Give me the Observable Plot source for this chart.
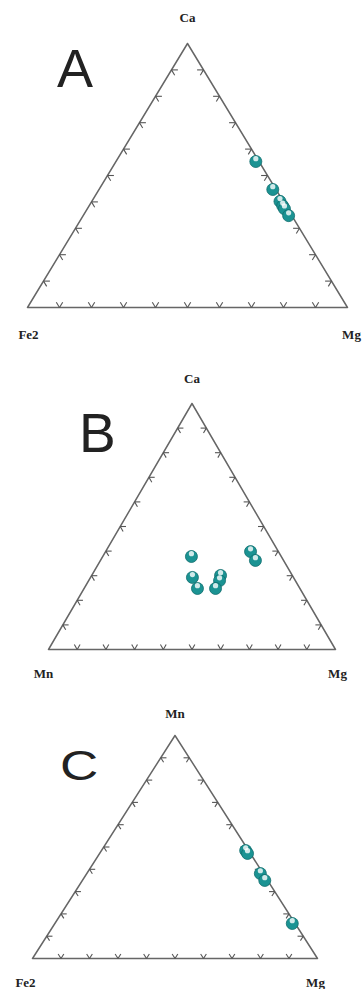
<!DOCTYPE html>
<html>
<head>
<meta charset="utf-8">
<script src="https://cdn.jsdelivr.net/npm/d3@7"></script>
<script src="https://cdn.jsdelivr.net/npm/@observablehq/plot@0.6"></script>
<style>
  html, body { margin: 0; padding: 0; background: #fff; }
  #wrap { position: relative; width: 364px; height: 989px; overflow: hidden; }
  .panel { position: absolute; left: 0; width: 364px; }
  .letter { position: absolute; font-family: "Liberation Sans", Arial, sans-serif; color: #222; line-height: 1; white-space: nowrap; }
</style>
</head>
<body>
<div id="wrap">
  <div class="panel" id="pA" style="top:0px;height:345px"></div>
  <div class="panel" id="pB" style="top:345px;height:345px"></div>
  <div class="panel" id="pC" style="top:690px;height:299px"></div>
  <span class="letter" style="left:57px;top:41px;font-size:54px">A</span>
  <span class="letter" style="left:79px;top:406px;font-size:55px">B</span>
  <span class="letter" style="left:60px;top:739px;font-size:53px;transform:scaleY(0.8);transform-origin:50% 50%">C</span>
</div>
<script>
// ---- Data (mole fractions) ----
// Panel A: Ca (top) – Fe2 (left) – Mg (right)
const aCa  = [0.553, 0.447, 0.402, 0.385, 0.374, 0.348];
const aFe2 = [0.010, 0.010, 0.010, 0.010, 0.010, 0.010];
const aMg  = [0.437, 0.543, 0.588, 0.605, 0.616, 0.642];

// Panel B: Ca (top) – Mn (left) – Mg (right)
const bCa = [0.378, 0.293, 0.248, 0.301, 0.280, 0.248, 0.398, 0.362];
const bMn = [0.313, 0.352, 0.357, 0.250, 0.264, 0.294, 0.097, 0.098];
const bMg = [0.309, 0.355, 0.395, 0.449, 0.456, 0.458, 0.505, 0.540];

// Panel C: Mn (top) – Fe2 (left) – Mg (right)
const cMn  = [0.484, 0.471, 0.381, 0.350, 0.157];
const cFe2 = [0.010, 0.010, 0.010, 0.010, 0.010];
const cMg  = [0.506, 0.519, 0.609, 0.640, 0.833];

// Tick positions along every side
const tickFractions = [0.1, 0.2, 0.3, 0.4, 0.5, 0.6, 0.7, 0.8, 0.9];

// Vertex labels
const labelsA = ["Ca", "Fe2", "Mg"];
const labelsB = ["Ca", "Mn", "Mg"];
const labelsC = ["Mn", "Fe2", "Mg"];

// ---- helpers ----
const tern = (top, left, right) => ({x: right + top / 2, y: top});

function buildTicks(len) {
  const t = [];
  for (const k of tickFractions) {
    let p = tern(0, 1 - k, k);
    t.push({x1: p.x, y1: p.y, x2: p.x + 0.5 * len, y2: p.y + len});
    t.push({x1: p.x, y1: p.y, x2: p.x - 0.5 * len, y2: p.y + len});
    p = tern(k, 1 - k, 0);
    t.push({x1: p.x, y1: p.y, x2: p.x + len, y2: p.y});
    t.push({x1: p.x, y1: p.y, x2: p.x + 0.5 * len, y2: p.y - len});
    p = tern(k, 0, 1 - k);
    t.push({x1: p.x, y1: p.y, x2: p.x - len, y2: p.y});
    t.push({x1: p.x, y1: p.y, x2: p.x - 0.5 * len, y2: p.y - len});
  }
  return t;
}

function panel(el, {height, margins, top, left, right, labels, lab}) {
  const pts = top.map((t, i) => tern(t, left[i], right[i]));
  const corners = [tern(0, 1, 0), tern(0, 0, 1), tern(1, 0, 0), tern(0, 1, 0)];
  const labelFont = {fontFamily: "Liberation Serif, Times New Roman, serif", fontWeight: "bold", fontSize: 13, fill: "#222"};
  const chart = Plot.plot({
    width: 364,
    height,
    marginTop: margins[0], marginRight: margins[1], marginBottom: margins[2], marginLeft: margins[3],
    x: {domain: [0, 1], axis: null},
    y: {domain: [0, 1], axis: null},
    style: {background: "white", overflow: "visible"},
    marks: [
      Plot.line(corners, {x: "x", y: "y", stroke: "#666", strokeWidth: 1.5}),
      Plot.link(buildTicks(0.02), {x1: "x1", y1: "y1", x2: "x2", y2: "y2", stroke: "#555", strokeWidth: 1.1}),
      Plot.dot(pts, {x: "x", y: "y", r: 6, fill: "#1b9393", stroke: "#0f6c6c", strokeWidth: 0.8}),
      Plot.dot(pts, {x: "x", y: "y", r: 2.6, fill: "white", fillOpacity: 0.8, dy: -2.8}),
      Plot.text([labels[0]], {x: 0.5, y: 1, text: d => d, dy: lab.top[1], dx: lab.top[0], ...labelFont}),
      Plot.text([labels[1]], {x: 0, y: 0, text: d => d, dy: lab.left[1], dx: lab.left[0], ...labelFont}),
      Plot.text([labels[2]], {x: 1, y: 0, text: d => d, dy: lab.right[1], dx: lab.right[0], ...labelFont})
    ]
  });
  document.getElementById(el).appendChild(chart);
}

panel("pA", {
  height: 345, margins: [43, 17, 38, 27],
  top: aCa, left: aFe2, right: aMg, labels: labelsA,
  lab: {top: [0, -26], left: [1, 27], right: [4, 27]}
});
panel("pB", {
  height: 345, margins: [58, 29, 41, 48],
  top: bCa, left: bMn, right: bMg, labels: labelsB,
  lab: {top: [0, -25], left: [-5, 24], right: [2, 24]}
});
panel("pC", {
  height: 299, margins: [45, 47, 31, 32],
  top: cMn, left: cFe2, right: cMg, labels: labelsC,
  lab: {top: [0, -22], left: [-7, 24], right: [-2, 24]}
});
</script>
</body>
</html>
